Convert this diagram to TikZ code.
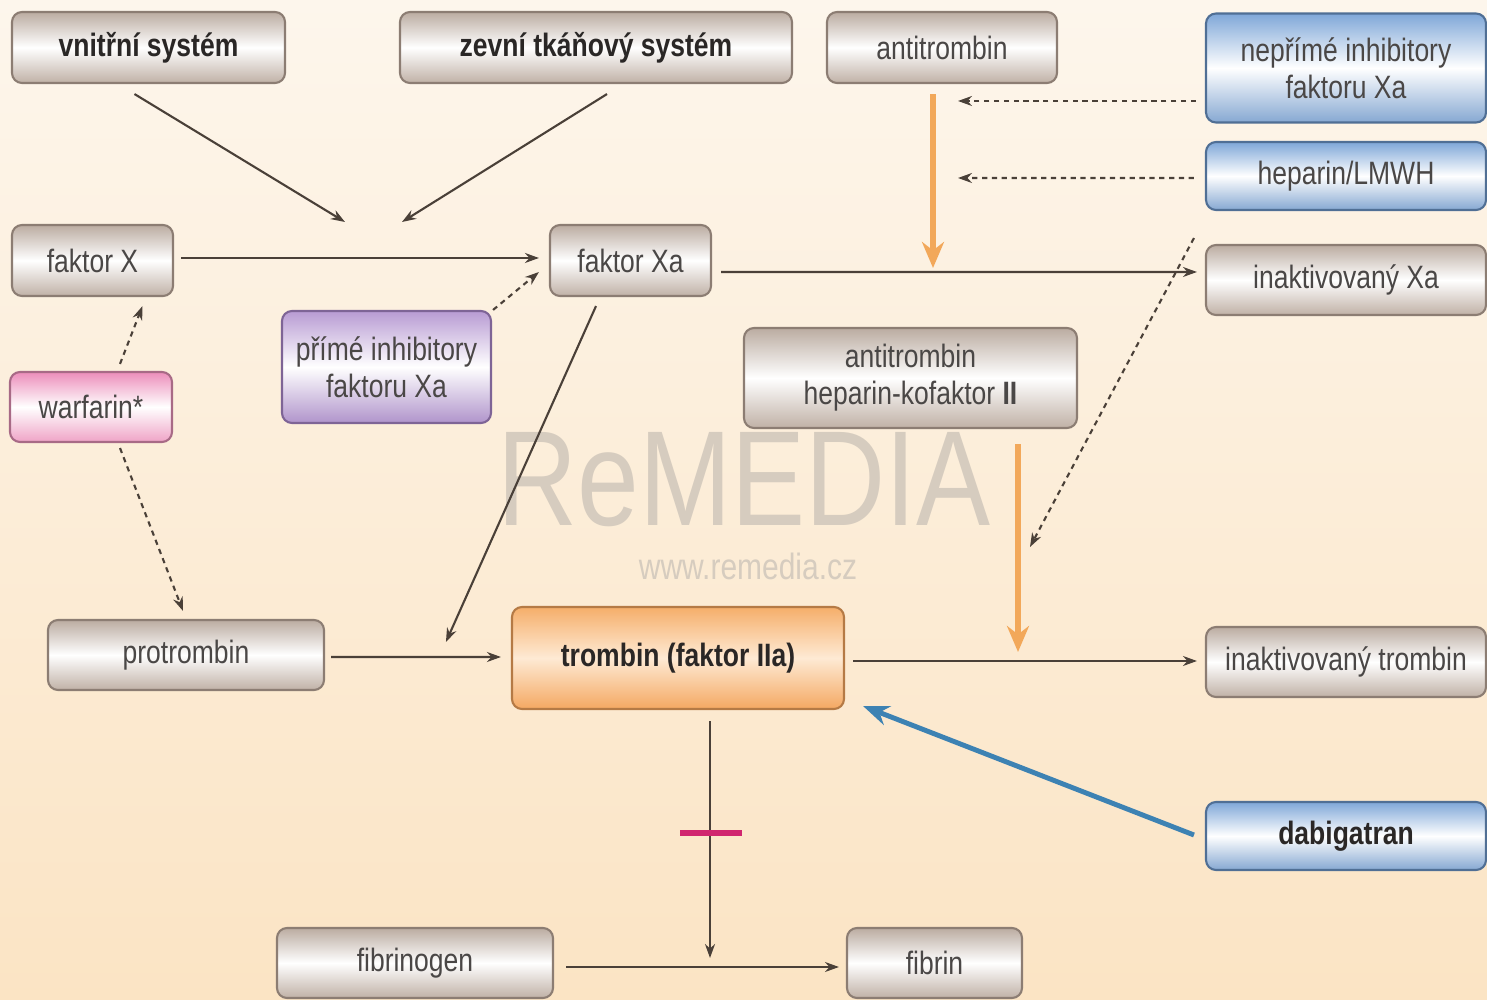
\documentclass[tikz,border=0pt]{standalone}
\usepackage{fontspec}
\setmainfont{Liberation Sans}[FakeStretch=0.82]
\usetikzlibrary{arrows.meta}
\definecolor{bgtop}{HTML}{FDF6EC}
\definecolor{bgbot}{HTML}{FBE4C4}
\definecolor{grtop}{HTML}{BBACA1}
\definecolor{grbot}{HTML}{C0B1A6}
\definecolor{grline}{HTML}{8C7D73}
\definecolor{modtop}{HTML}{7FA7D8}
\definecolor{modbot}{HTML}{86A8D2}
\definecolor{modline}{HTML}{506F95}
\definecolor{fialtop}{HTML}{B89BD3}
\definecolor{fialbot}{HTML}{B094CB}
\definecolor{fialline}{HTML}{7E6496}
\definecolor{ruztop}{HTML}{EC8DBA}
\definecolor{ruzbot}{HTML}{EFA3C6}
\definecolor{ruzline}{HTML}{A86A86}
\definecolor{orantop}{HTML}{F5AE6A}
\definecolor{oranmid}{HTML}{FEEAD4}
\definecolor{oranbot}{HTML}{F4A862}
\definecolor{oranline}{HTML}{B57A45}
\definecolor{oranarrow}{HTML}{F2A85A}
\definecolor{modarrow}{HTML}{3D82B3}
\definecolor{blokcol}{HTML}{D0266F}
\definecolor{txt}{HTML}{4A4746}
\definecolor{tucny}{HTML}{2A2726}
\definecolor{sipka}{HTML}{4A4038}
\definecolor{znak}{HTML}{D6CCBF}

\begin{document}
\begin{tikzpicture}[>={Stealth[length=1.4mm,width=1mm]},
  font=\fontsize{9.2}{10.5}\selectfont,
  box/.style={draw=grline,line width=0.6pt,rounded corners=1mm,shading=axis,
    top color=grtop,bottom color=grbot,middle color=white,
    minimum height=0.71cm,inner sep=0pt,text=txt,align=center},
  modra/.style={box,draw=modline,top color=modtop,bottom color=modbot,middle color=white},
  fialova/.style={box,draw=fialline,top color=fialtop,bottom color=fialbot,middle color=white},
  ruzova/.style={box,draw=ruzline,top color=ruztop,bottom color=ruzbot,middle color=white},
  oranzova/.style={box,draw=oranline,top color=orantop,bottom color=oranbot,middle color=oranmid},
  spoj/.style={->,draw=sipka,line width=0.6pt},
  vliv/.style={spoj,dash pattern=on 1.5pt off 1.3pt},
  inaktivace/.style={-{Stealth[length=2.6mm,width=2.2mm]},draw=oranarrow,line width=1.6pt},
  blokada/.style={-{Stealth[length=2.6mm,width=2mm]},draw=modarrow,line width=1.4pt}]
\useasboundingbox (0,0) rectangle (14.87,-10);
\shade[top color=bgtop,bottom color=bgbot] (0,0) rectangle (14.87,-10);
\node (znak) at (7.44,-4.80) [text=znak,inner sep=0pt,font=\fontsize{38.5}{39}\selectfont] {ReMEDIA};
\node (web) at (7.48,-5.66) [text=znak,inner sep=0pt,font=\fontsize{10.4}{11}\selectfont] {www.remedia.cz};

\node (vnitrni) at (1.485,-0.475) [box,minimum width=2.73cm,text=tucny] {\textbf{vnitřní systém}};
\node (zevni) at (5.96,-0.475) [box,minimum width=3.92cm,text=tucny] {\textbf{zevní tkáňový systém}};
\node (at) at (9.42,-0.475) [box,minimum width=2.30cm] {antitrombin};
\node (neprime) at (13.46,-0.68) [modra,minimum width=2.80cm,minimum height=1.09cm] {nepřímé inhibitory\\faktoru Xa};
\node (heparin) at (13.46,-1.76) [modra,minimum width=2.80cm,minimum height=0.68cm] {heparin/LMWH};
\node (inXa) at (13.46,-2.80) [box,minimum width=2.80cm,minimum height=0.70cm] {inaktivovaný Xa};
\node (fX) at (0.925,-2.605) [box,minimum width=1.61cm] {faktor X};
\node (fXa) at (6.305,-2.605) [box,minimum width=1.61cm] {faktor Xa};
\node (prime) at (3.865,-3.67) [fialova,minimum width=2.09cm,minimum height=1.12cm] {přímé inhibitory\\faktoru Xa};
\node (warfarin) at (0.91,-4.07) [ruzova,minimum width=1.62cm,minimum height=0.70cm] {warfarin*};
\node (atkof) at (9.105,-3.78) [box,minimum width=3.33cm,minimum height=1.00cm] {antitrombin\\heparin-kofaktor \textbf{II}};
\node (protrombin) at (1.86,-6.55) [box,minimum width=2.76cm,minimum height=0.70cm] {protrombin};
\node (trombin) at (6.78,-6.58) [oranzova,minimum width=3.32cm,minimum height=1.02cm,text=tucny] {\textbf{trombin (faktor IIa)}};
\node (inIIa) at (13.46,-6.62) [box,minimum width=2.80cm,minimum height=0.70cm] {inaktivovaný trombin};
\node (dabi) at (13.46,-8.36) [modra,minimum width=2.80cm,minimum height=0.68cm,text=tucny] {\textbf{dabigatran}};
\node (fibrinogen) at (4.15,-9.63) [box,minimum width=2.76cm,minimum height=0.70cm] {fibrinogen};
\node (fibrin) at (9.345,-9.63) [box,minimum width=1.75cm,minimum height=0.70cm] {fibrin};

\coordinate (sbeh1) at (3.45,-2.22);
\coordinate (sbeh2) at (4.02,-2.22);
\coordinate (zasah1) at (9.33,-2.68);
\coordinate (c1) at (9.58,-1.01);
\coordinate (c2) at (9.58,-1.78);
\coordinate (c3) at (10.30,-5.47);
\coordinate (zasah2) at (10.18,-6.52);
\coordinate (stred) at (7.10,-9.58);

\draw [spoj] ([xshift=-0.14cm,yshift=-0.1cm]vnitrni.south) -- (sbeh1);
\draw [spoj] ([xshift=0.11cm,yshift=-0.1cm]zevni.south) -- (sbeh2);
\draw [spoj] ([xshift=0.07cm,yshift=0.025cm]fX.east) -- ([xshift=-0.1cm,yshift=0.025cm]fXa.west);
\draw [vliv] ([xshift=0.01cm]prime.north east) -- ([xshift=-0.1cm,yshift=-0.115cm]fXa.west);
\draw [vliv] ([xshift=0.29cm,yshift=0.07cm]warfarin.north) -- ([xshift=0.5cm,yshift=-0.09cm]fX.south);
\draw [vliv] ([xshift=0.29cm,yshift=-0.05cm]warfarin.south) -- ([xshift=-0.03cm,yshift=0.08cm]protrombin.north);
\draw [spoj] ([xshift=-0.345cm,yshift=-0.09cm]fXa.south) -- ([xshift=-0.65cm,yshift=0.16cm]trombin.west);
\draw [spoj] ([xshift=0.06cm,yshift=-0.02cm]protrombin.east) -- ([xshift=-0.1cm,yshift=0.01cm]trombin.west);
\draw [spoj] ([xshift=0.09cm,yshift=-0.115cm]fXa.east) -- ([xshift=-0.08cm,yshift=0.08cm]inXa.west);
\draw [inaktivace] ([xshift=-0.09cm,yshift=-0.1cm]at.south) -- (zasah1);
\draw [vliv] ([xshift=-0.09cm,yshift=-0.33cm]neprime.west) -- (c1);
\draw [vliv] ([xshift=-0.11cm,yshift=-0.02cm]heparin.west) -- (c2);
\draw [vliv] ([xshift=-0.11cm,yshift=-0.27cm]heparin.south west) -- (c3);
\draw [inaktivace] ([xshift=1.075cm,yshift=-0.15cm]atkof.south) -- (zasah2);
\draw [spoj] ([xshift=0.08cm,yshift=-0.03cm]trombin.east) -- ([xshift=-0.08cm,yshift=0.01cm]inIIa.west);
\draw [blokada] ([xshift=-0.11cm,yshift=0.01cm]dabi.west) -- ([xshift=0.18cm,yshift=0.04cm]trombin.south east);
\draw [spoj] ([xshift=0.32cm,yshift=-0.11cm]trombin.south) -- (stred);
\draw [draw=blokcol,line width=1.8pt] (6.80,-8.33) -- (7.42,-8.33);
\draw [spoj] ([xshift=0.12cm,yshift=-0.04cm]fibrinogen.east) -- ([xshift=-0.07cm,yshift=-0.04cm]fibrin.west);
\end{tikzpicture}
\end{document}
